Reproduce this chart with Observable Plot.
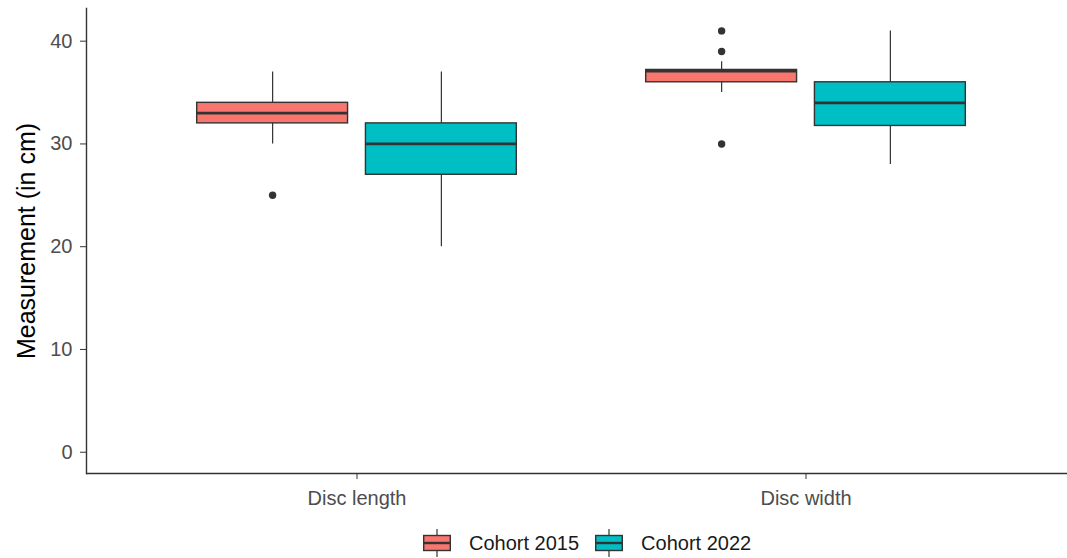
<!DOCTYPE html>
<html>
<head>
<meta charset="utf-8">
<script src="https://cdn.jsdelivr.net/npm/d3@7"></script>
<script src="https://cdn.jsdelivr.net/npm/@observablehq/plot@0.6"></script>
<style>
  html, body { margin: 0; padding: 0; background: #fff; }
  body { width: 1067px; height: 558px; overflow: hidden; position: relative; font-family: "Liberation Sans", Arial, sans-serif; }
  #legend { position: absolute; left: 423px; top: 529px; display: flex; align-items: center; font-size: 20px; color: #1a1a1a; }
  #legend .item { display: flex; align-items: center; margin-right: 16px; }
  #legend svg { margin-right: 18px; display: block; }
</style>
</head>
<body>
<div id="chart"></div>
<div id="legend"></div>
<script>
// ---- Data ----
const categories = ["Disc length", "Disc width"];
const cohorts = ["Cohort 2015", "Cohort 2022"];
const cohortColors = ["#F8766D", "#00BFC4"];

// Box statistics per category, for each cohort
const lower2015  = [30, 35];
const q1_2015    = [32, 36];
const median2015 = [33, 37.1];
const q3_2015    = [34, 37.2];
const upper2015  = [37, 38];

const lower2022  = [20, 28];
const q1_2022    = [27, 31.75];
const median2022 = [30, 34];
const q3_2022    = [32, 36];
const upper2022  = [37, 41];

// Outliers
const outlierCategory = ["Disc length", "Disc width", "Disc width", "Disc width"];
const outlierCohort   = ["Cohort 2015", "Cohort 2015", "Cohort 2015", "Cohort 2015"];
const outlierValue    = [25, 41, 39, 30];

const yTicks = [0, 10, 20, 30, 40];

// ---- Build tables ----
const statSets = {
  "Cohort 2015": [lower2015, q1_2015, median2015, q3_2015, upper2015],
  "Cohort 2022": [lower2022, q1_2022, median2022, q3_2022, upper2022]
};
const stats = [];
cohorts.forEach(c => {
  const [lo, q1, med, q3, hi] = statSets[c];
  categories.forEach((cat, j) => {
    stats.push({category: cat, cohort: c, lo: lo[j], q1: q1[j], med: med[j], q3: q3[j], hi: hi[j]});
  });
});
const outliers = outlierValue.map((v, i) => ({category: outlierCategory[i], cohort: outlierCohort[i], value: v}));

// ---- Layout ----
const width = 1067, height = 515;
const marginLeft = 86, marginRight = -9, marginTop = 8, marginBottom = 42;
const paddingOuter = 0.1;
const step = (width - marginLeft - marginRight) / (categories.length + 2 * paddingOuter);
const dodgeWidth = 0.75 * step;              // ggplot dodge width
const slot = dodgeWidth / cohorts.length;
const boxWidth = 0.9 * slot;
const inset = (step - boxWidth) / 2;
const ink = "#333333";

const marks = [];
cohorts.forEach((c, i) => {
  const dx = (i - (cohorts.length - 1) / 2) * slot;
  const d = stats.filter(s => s.cohort === c);
  marks.push(Plot.ruleX(d, {x: "category", y1: "lo", y2: "hi", dx, stroke: ink, strokeWidth: 1.2}));
  marks.push(Plot.barY(d, {x: "category", y1: "q1", y2: "q3", fill: "cohort", stroke: ink, strokeWidth: 1.4,
                           insetLeft: inset, insetRight: inset, dx}));
  marks.push(Plot.tickY(d, {x: "category", y: "med", dx, insetLeft: inset, insetRight: inset, stroke: ink, strokeWidth: 2.8}));
  marks.push(Plot.dot(outliers.filter(o => o.cohort === c), {x: "category", y: "value", dx, r: 3.7, fill: ink, stroke: "none"}));
});

const chart = Plot.plot({
  width, height, marginLeft, marginRight, marginTop, marginBottom,
  style: {fontFamily: "'Liberation Sans', Arial, sans-serif", background: "#fff", overflow: "hidden"},
  x: {domain: categories, paddingInner: 0, paddingOuter, align: 0.5},
  y: {domain: [-2.07, 43.18], nice: false},
  color: {domain: cohorts, range: cohortColors},
  marks: [
    ...marks,
    Plot.axisY({ticks: yTicks, tickSize: 6, tickPadding: 8, fontSize: 20, label: null, color: "#4d4d4d", stroke: ink}),
    Plot.axisX({tickSize: 6, tickPadding: 11, fontSize: 20, label: null, color: "#4d4d4d", stroke: ink}),
    Plot.ruleY([-2.07], {stroke: ink, strokeWidth: 1.4}),
    Plot.frame({anchor: "left", stroke: ink, strokeWidth: 1.4}),
    Plot.text(["Measurement (in cm)"], {frameAnchor: "left", rotate: -90, dx: -60, fontSize: 25, fill: "#000", textAnchor: "middle"})
  ]
});
document.getElementById("chart").appendChild(chart);

// ---- Legend ----
const legend = d3.select("#legend");
cohorts.forEach((c, i) => {
  const item = legend.append("div").attr("class", "item");
  const s = item.append("svg").attr("width", 28).attr("height", 28);
  s.append("line").attr("x1", 14).attr("x2", 14).attr("y1", 0).attr("y2", 28).attr("stroke", ink).attr("stroke-width", 1.2);
  s.append("rect").attr("x", 0.7).attr("y", 6.5).attr("width", 26.6).attr("height", 15)
    .attr("fill", cohortColors[i]).attr("stroke", ink).attr("stroke-width", 1.4);
  s.append("line").attr("x1", 0.7).attr("x2", 27.3).attr("y1", 14).attr("y2", 14).attr("stroke", ink).attr("stroke-width", 2.4);
  item.append("span").text(c);
});
</script>
</body>
</html>
